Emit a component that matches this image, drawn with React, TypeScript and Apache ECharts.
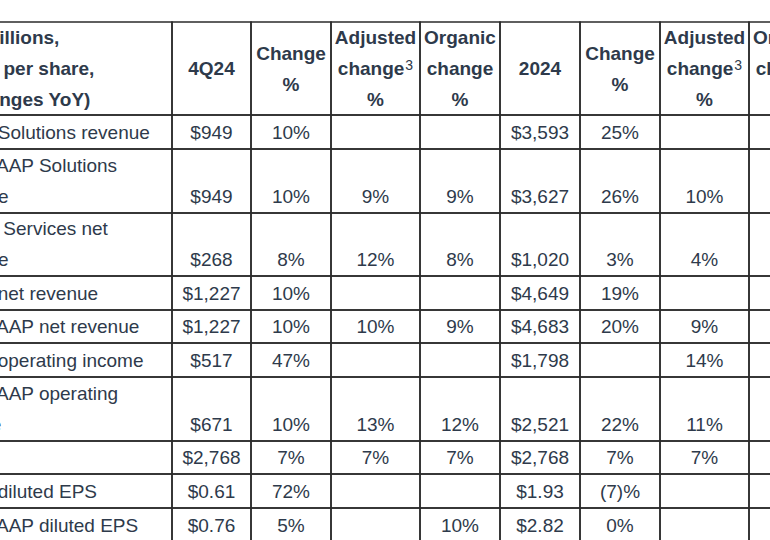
import React, { useEffect, useRef } from "react";
import * as echarts from "echarts";

// ---- table content ----
const headers: string[][] = [
  ["($ in millions,", "except per share,", "(% changes YoY)"],
  ["4Q24"],
  ["Change", "%"],
  ["Adjusted", "change³", "%"],
  ["Organic", "change", "%"],
  ["2024"],
  ["Change", "%"],
  ["Adjusted", "change³", "%"],
  ["Organic", "change", "%"],
];
const rowLabels: string[][] = [
  ["GAAP Solutions revenue"],
  ["Non-GAAP Solutions", "revenue"],
  ["Market Services net", "revenue"],
  ["GAAP net revenue"],
  ["Non-GAAP net revenue"],
  ["GAAP operating income"],
  ["Non-GAAP operating", "income"],
  ["ARR"],
  ["GAAP diluted EPS"],
  ["Non-GAAP diluted EPS"],
];
const q4Values = ["$949", "$949", "$268", "$1,227", "$1,227", "$517", "$671", "$2,768", "$0.61", "$0.76"];
const q4Change = ["10%", "10%", "8%", "10%", "10%", "47%", "10%", "7%", "72%", "5%"];
const q4Adjusted = ["", "9%", "12%", "", "10%", "", "13%", "7%", "", ""];
const q4Organic = ["", "9%", "8%", "", "9%", "", "12%", "7%", "", "10%"];
const fyValues = ["$3,593", "$3,627", "$1,020", "$4,649", "$4,683", "$1,798", "$2,521", "$2,768", "$1.93", "$2.82"];
const fyChange = ["25%", "26%", "3%", "19%", "20%", "", "22%", "7%", "(7)%", "0%"];
const fyAdjusted = ["", "10%", "4%", "", "9%", "14%", "11%", "7%", "", ""];
const fyOrganic = ["", "", "", "", "", "", "", "", "", ""];

// ---- layout ----
const W = 770;
const H = 540;
const colEdges = [-64, 172, 251, 331, 420, 500, 580, 660, 749, 829];
const rowEdges = [22, 115, 149, 213, 276, 310, 343, 377, 441, 474, 508, 542];
const PAD_LEFT = 4;
const HEADER_PAD_LEFT = 2;
const LINE_H = 31;
const BOTTOM_OFFSET = 17;
const TEXT_COLOR = "#2e3a4b";
const BORDER_COLOR = "#2b2b2b";
const FONT_FAMILY = '"Liberation Sans", Arial, Helvetica, sans-serif';
const FONT_SIZE = 19;
const SUP_SIZE = 14;

type Cell = { col: number; row: number; lines: string[]; header: boolean };

function buildCells(): Cell[] {
  const cells: Cell[] = [];
  headers.forEach((lines, c) => cells.push({ col: c, row: 0, lines, header: true }));
  const valueCols = [q4Values, q4Change, q4Adjusted, q4Organic, fyValues, fyChange, fyAdjusted, fyOrganic];
  rowLabels.forEach((label, r) => {
    cells.push({ col: 0, row: r + 1, lines: label, header: false });
    valueCols.forEach((arr, i) => {
      const v = arr[r];
      cells.push({ col: i + 1, row: r + 1, lines: v ? [v] : [], header: false });
    });
  });
  return cells;
}

let measureCtx: CanvasRenderingContext2D | null = null;
function measure(text: string, size: number, bold: boolean): number {
  if (!measureCtx) measureCtx = document.createElement("canvas").getContext("2d");
  if (!measureCtx) return text.length * size * 0.55;
  measureCtx.font = `${bold ? "bold " : ""}${size}px ${FONT_FAMILY}`;
  return measureCtx.measureText(text).width;
}

export default function App() {
  const ref = useRef<HTMLDivElement>(null);
  useEffect(() => {
    if (!ref.current) return;
    const chart = echarts.init(ref.current, undefined, { renderer: "svg" });
    const cells = buildCells();
    chart.setOption({
      animation: false,
      backgroundColor: "#ffffff",
      grid: { left: 0, right: 0, top: 0, bottom: 0 },
      xAxis: { type: "value", min: 0, max: W, show: false },
      yAxis: { type: "value", min: 0, max: H, inverse: true, show: false },
      series: [
        {
          type: "custom",
          clip: false,
          data: cells.map((c) => [c.col, c.row]),
          renderItem: (params: any, api: any) => {
            const cell = cells[params.dataIndex];
            const [x0, y0] = api.coord([colEdges[cell.col], rowEdges[cell.row]]);
            const [x1, y1] = api.coord([colEdges[cell.col + 1], rowEdges[cell.row + 1]]);
            const children: any[] = [
              {
                type: "rect",
                shape: { x: x0, y: y0, width: x1 - x0, height: y1 - y0 },
                style: { fill: "none", stroke: BORDER_COLOR, lineWidth: 1.5 },
              },
            ];
            const n = cell.lines.length;
            const isLabelCol = cell.col === 0;
            const bold = cell.header;
            const weight = bold ? "bold" : "normal";
            cell.lines.forEach((line, i) => {
              let cy: number;
              if (cell.header) {
                cy = (y0 + y1) / 2 + (i - (n - 1) / 2) * LINE_H;
              } else {
                cy = y1 - BOTTOM_OFFSET - (n - 1 - i) * LINE_H;
              }
              if (isLabelCol) {
                children.push({
                  type: "text",
                  style: {
                    text: line,
                    x: x0 + (cell.header ? HEADER_PAD_LEFT : PAD_LEFT),
                    y: cy,
                    fill: TEXT_COLOR,
                    fontFamily: FONT_FAMILY,
                    fontSize: FONT_SIZE,
                    fontWeight: weight,
                    align: "left",
                    verticalAlign: "middle",
                  },
                });
                return;
              }
              const hasSup = line.endsWith("³");
              const base = hasSup ? line.slice(0, -1) : line;
              const cx = (x0 + x1) / 2;
              if (!hasSup) {
                children.push({
                  type: "text",
                  style: {
                    text: base,
                    x: cx,
                    y: cy,
                    fill: TEXT_COLOR,
                    fontFamily: FONT_FAMILY,
                    fontSize: FONT_SIZE,
                    fontWeight: weight,
                    align: "center",
                    verticalAlign: "middle",
                  },
                });
                return;
              }
              const wBase = measure(base, FONT_SIZE, bold);
              const wSup = measure("3", SUP_SIZE, false) + 1;
              const left = cx - (wBase + wSup) / 2;
              children.push({
                type: "text",
                style: {
                  text: base,
                  x: left,
                  y: cy,
                  fill: TEXT_COLOR,
                  fontFamily: FONT_FAMILY,
                  fontSize: FONT_SIZE,
                  fontWeight: weight,
                  align: "left",
                  verticalAlign: "middle",
                },
              });
              children.push({
                type: "text",
                style: {
                  text: "3",
                  x: left + wBase + 1,
                  y: cy - 4,
                  fill: TEXT_COLOR,
                  fontFamily: FONT_FAMILY,
                  fontSize: SUP_SIZE,
                  fontWeight: "normal",
                  align: "left",
                  verticalAlign: "middle",
                },
              });
            });
            return { type: "group", children };
          },
        },
      ],
    });
    return () => chart.dispose();
  }, []);
  return (
    <div
      ref={ref}
      style={{ position: "fixed", left: 0, top: 0, width: W, height: H, background: "#fff" }}
    />
  );
}
